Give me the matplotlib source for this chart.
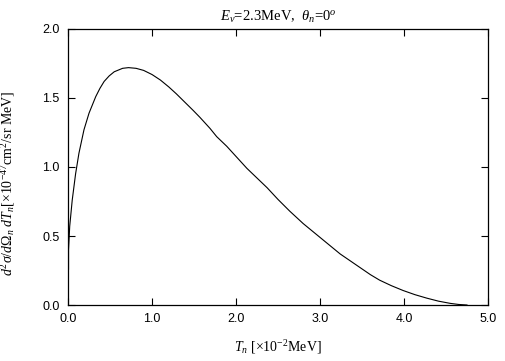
import matplotlib.pyplot as plt

t_n = [0.006, 0.006, 0.02, 0.05, 0.09, 0.13, 0.19, 0.25, 0.33, 0.38, 0.43,
       0.49, 0.55, 0.65, 0.72, 0.81, 0.90, 1.00, 1.10, 1.20, 1.29, 1.39,
       1.49, 1.57, 1.69, 1.77, 1.89, 2.01, 2.13, 2.25, 2.37, 2.50, 2.64,
       2.80, 2.96, 3.10, 3.24, 3.36, 3.48, 3.60, 3.71, 3.85, 3.99, 4.13,
       4.27, 4.41, 4.55, 4.65, 4.75]
xsec = [0.26, 0.40, 0.57, 0.76, 0.95, 1.10, 1.27, 1.39, 1.51, 1.57, 1.62,
        1.66, 1.69, 1.715, 1.72, 1.715, 1.70, 1.67, 1.63, 1.58, 1.53, 1.47,
        1.41, 1.36, 1.28, 1.22, 1.15, 1.07, 0.99, 0.92, 0.85, 0.765, 0.68,
        0.59, 0.51, 0.44, 0.37, 0.32, 0.27, 0.22, 0.18, 0.14, 0.105, 0.075,
        0.05, 0.028, 0.012, 0.004, 0.0]

xticks = [0, 1, 2, 3, 4, 5]
xticklabels = ['0.0', '1.0', '2.0', '3.0', '4.0', '5.0']
yticks = [0.0, 0.5, 1.0, 1.5, 2.0]
yticklabels = ['0.0', '0.5', '1.0', '1.5', '2.0']

plt.rcParams['mathtext.fontset'] = 'custom'
plt.rcParams['mathtext.rm'] = 'Liberation Serif'
plt.rcParams['mathtext.it'] = 'Liberation Serif:italic'
plt.rcParams['mathtext.bf'] = 'Liberation Serif:bold'

fig = plt.figure(figsize=(5.05, 3.61), dpi=100)
ax = fig.add_axes([0.1347, 0.1551, 0.8316, 0.7646])

ax.plot(t_n, xsec, color='black', linewidth=0.8, solid_joinstyle='round')

ax.set_xlim(0, 5)
ax.set_ylim(0, 2)
ax.set_xticks(xticks)
ax.set_xticklabels(xticklabels, family='Liberation Sans', fontsize=9)
ax.set_yticks(yticks)
ax.set_yticklabels(yticklabels, family='Liberation Sans', fontsize=9)
ax.tick_params(direction='in', length=5, width=0.8, top=True, right=True,
               pad=6)
for sp in ax.spines.values():
    sp.set_linewidth(0.9)

ax.set_xlabel(r'$T_n$ [$\times$10$^{-2}$MeV]', family='Liberation Serif',
              fontsize=10, labelpad=9)
ax.set_ylabel(r'$d^2\sigma/d\Omega_n\ dT_n$[$\times$10$^{-47}$cm$^2$/sr MeV]',
              family='Liberation Serif', fontsize=10)
ax.yaxis.set_label_coords(-0.121, 0.44)
ax.set_title(r'$E_\nu$=2.3MeV,  $\theta_n$=0$^o$', family='Liberation Serif',
             fontsize=10.5, pad=6)

fig.savefig('out.png', dpi=100)
